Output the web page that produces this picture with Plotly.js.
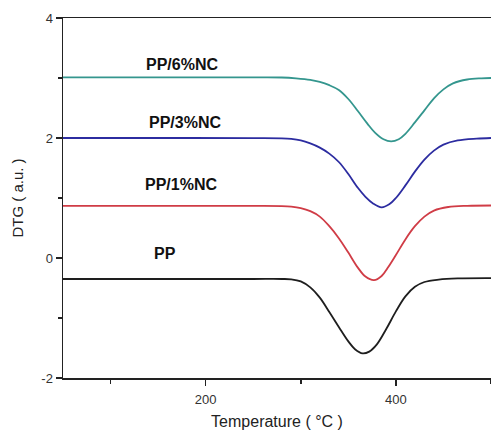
<!DOCTYPE html>
<html>
<head>
<meta charset="utf-8">
<script src="https://cdn.plot.ly/plotly-3.0.1.min.js"></script>
<style>html,body{margin:0;padding:0;background:#fff;}#chart{width:491px;height:430px;}</style>
</head>
<body>
<div id="chart"></div>
<script>
// Temperature (°C) and DTG (a.u.) values
const tempPP  = [50, 150, 250, 280, 290, 300, 310, 320, 330, 340, 350, 357, 365, 372, 380, 390, 400, 410, 420, 430, 445, 465, 500];
const dtgPP   = [-0.35, -0.35, -0.35, -0.35, -0.355, -0.39, -0.49, -0.66, -0.90, -1.15, -1.39, -1.52, -1.59, -1.56, -1.44, -1.18, -0.89, -0.64, -0.48, -0.40, -0.36, -0.34, -0.335];

const tempNC1 = [50, 150, 250, 280, 290, 300, 310, 320, 330, 340, 350, 360, 368, 377, 385, 392, 400, 410, 420, 430, 440, 455, 475, 500];
const dtgNC1  = [0.87, 0.87, 0.868, 0.865, 0.855, 0.83, 0.78, 0.69, 0.53, 0.33, 0.09, -0.16, -0.31, -0.37, -0.30, -0.15, 0.05, 0.31, 0.53, 0.69, 0.79, 0.85, 0.87, 0.875];

const tempNC3 = [50, 150, 250, 280, 290, 300, 310, 320, 330, 340, 350, 360, 368, 376, 385, 393, 400, 410, 420, 430, 440, 450, 465, 485, 500];
const dtgNC3  = [2.0, 2.0, 1.998, 1.995, 1.985, 1.96, 1.91, 1.84, 1.74, 1.60, 1.40, 1.17, 1.02, 0.91, 0.845, 0.895, 1.0, 1.21, 1.44, 1.64, 1.79, 1.89, 1.96, 1.99, 2.0];

const tempNC6 = [50, 150, 250, 280, 295, 310, 320, 330, 340, 350, 360, 370, 378, 387, 395, 403, 410, 420, 430, 440, 450, 460, 475, 490, 500];
const dtgNC6  = [3.01, 3.01, 3.01, 3.008, 2.995, 2.97, 2.935, 2.88, 2.80, 2.65, 2.45, 2.24, 2.09, 1.98, 1.945, 1.98, 2.07, 2.26, 2.46, 2.66, 2.81, 2.91, 2.975, 2.995, 3.0];

const seriesNames = ["PP", "PP/1%NC", "PP/3%NC", "PP/6%NC"];
const labelX = [157, 174, 178, 175];
const labelY = [0.08, 1.23, 2.26, 3.22];

const xTickVals = [200, 400];
const xTickText = ["200", "400"];
const yTickVals = [-2, 0, 2, 4];
const yTickText = ["-2", "0", "2", "4"];

const colors = ["#1e1e1e", "#d03c46", "#2c2ca0", "#34968e"];
const temps = [tempPP, tempNC1, tempNC3, tempNC6];
const dtgs = [dtgPP, dtgNC1, dtgNC3, dtgNC6];

const traces = temps.map((t, i) => ({
  x: t, y: dtgs[i], type: 'scatter', mode: 'lines', name: seriesNames[i],
  line: {color: colors[i], width: 1.8, shape: 'spline', smoothing: 1},
  hoverinfo: 'skip'
}));

const annotations = seriesNames.map((n, i) => ({
  x: labelX[i], y: labelY[i], xref: 'x', yref: 'y', text: '<b>' + n + '</b>',
  showarrow: false, font: {family: 'Liberation Sans, Arial, sans-serif', size: 16, color: '#111'}
}));

const layout = {
  width: 491, height: 430,
  margin: {l: 63, r: 0, t: 18, b: 52},
  paper_bgcolor: '#fff', plot_bgcolor: '#fff',
  showlegend: false,
  font: {family: 'Liberation Sans, Arial, sans-serif', color: '#333'},
  xaxis: {
    range: [50, 500], showgrid: false, zeroline: false,
    tickmode: 'array', tickvals: xTickVals, ticktext: xTickText,
    ticks: 'outside', ticklen: 6, tickwidth: 1.5, tickcolor: '#222',
    minor: {tickmode: 'linear', tick0: 0, dtick: 100, ticks: 'outside', ticklen: 4, tickwidth: 1.5, tickcolor: '#222'},
    showline: true, linecolor: '#222', linewidth: 1.5, mirror: true,
    tickfont: {size: 13, color: '#333'}, ticklabelstandoff: 3,
    title: {text: 'Temperature ( °C )', font: {size: 16, color: '#222'}, standoff: 10}
  },
  yaxis: {
    range: [-2, 4], showgrid: false, zeroline: false,
    tickmode: 'array', tickvals: yTickVals, ticktext: yTickText,
    ticks: 'outside', ticklen: 6, tickwidth: 1.5, tickcolor: '#222',
    minor: {tickmode: 'linear', tick0: 0, dtick: 1, ticks: 'outside', ticklen: 4, tickwidth: 1.5, tickcolor: '#222'},
    showline: true, linecolor: '#222', linewidth: 1.5,
    tickfont: {size: 13, color: '#333'},
    title: {text: 'DTG ( a.u. )', font: {size: 15, color: '#222'}, standoff: 14}
  },
  annotations: annotations
};

Plotly.newPlot('chart', traces, layout, {displayModeBar: false, staticPlot: true});
</script>
</body>
</html>
